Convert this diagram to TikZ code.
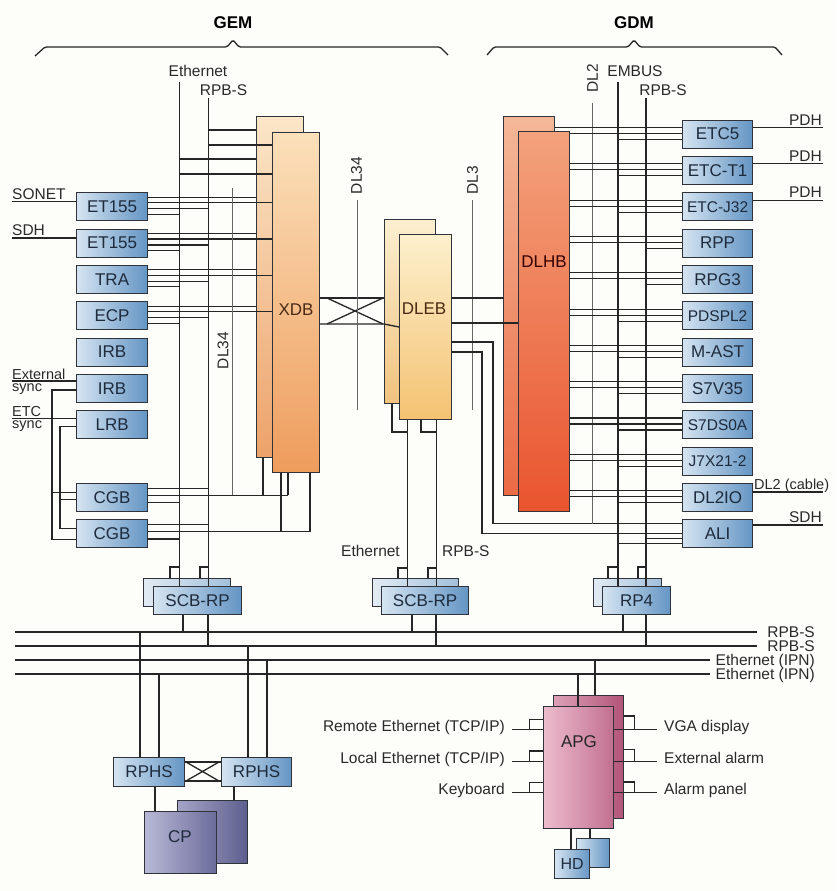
\documentclass[tikz,border=0pt]{standalone}
\usepackage{fontspec}
\setmainfont{Liberation Sans}
\usetikzlibrary{calc}
\pgfdeclarelayer{bgl}
\pgfdeclarelayer{bb}
\pgfdeclarelayer{wires}
\pgfsetlayers{bgl,bb,wires,main}
\definecolor{bgc}{HTML}{FDFDFA}
\definecolor{wire}{HTML}{262626}
\definecolor{bord}{HTML}{30343A}
\definecolor{blL}{HTML}{D5E4F1}
\definecolor{blR}{HTML}{6495C4}
\definecolor{blBL}{HTML}{E2EBF3}
\definecolor{blBR}{HTML}{A3C0DC}
\definecolor{txt}{HTML}{1E2B3C}
\definecolor{lblc}{HTML}{2A2A2A}
\definecolor{cXT}{HTML}{FBE0BA}
\definecolor{cXB}{HTML}{EE9C5C}
\definecolor{cXbT}{HTML}{FAE6C8}
\definecolor{cXbB}{HTML}{EDA26A}
\definecolor{cDT}{HTML}{FCF0CC}
\definecolor{cDB}{HTML}{F4C272}
\definecolor{cDbT}{HTML}{FBEFD0}
\definecolor{cDbB}{HTML}{F1C37E}
\definecolor{cHT}{HTML}{F3A27C}
\definecolor{cHB}{HTML}{E9542E}
\definecolor{cHbT}{HTML}{F4B898}
\definecolor{cHbB}{HTML}{EB6A44}
\definecolor{cpL}{HTML}{B8B8D6}
\definecolor{cpR}{HTML}{6C6C9C}
\definecolor{cpbL}{HTML}{A4A4C8}
\definecolor{cpbR}{HTML}{5E5E8E}
\definecolor{apL}{HTML}{EDBCCD}
\definecolor{apR}{HTML}{C27090}
\definecolor{apbL}{HTML}{DDA0B6}
\definecolor{apbR}{HTML}{B25578}
\definecolor{bigtxt}{HTML}{4A2A14}
\tikzset{
 wr/.style={draw=wire,line width=1.3pt},
 busline/.style={draw=wire,line width=2.5pt},
 dlline/.style={draw=wire!70,line width=0.8pt},
 bx/.style={draw=bord,line width=1.2pt,inner sep=0pt,anchor=north west},
 board/.style={bx,left color=blL,right color=blR,minimum width=71,minimum height=28,text=txt,font=\fontsize{17}{19}\selectfont},
 narrow/.style={font=\fontsize{15.5}{18}\selectfont},
 boardback/.style={bx,left color=blBL,right color=blBR},
 lbl/.style={inner sep=0pt,text=lblc,font=\fontsize{15.5}{18}\selectfont},
 twoline/.style={align=left,font=\fontsize{14.5}{12.4}\selectfont},
 ttl/.style={inner sep=0pt,text=black,font=\fontsize{17}{20}\selectfont\bfseries},
 bigl/.style={inner sep=0pt,text=bigtxt,font=\fontsize{17}{19}\selectfont},
}
\newcommand\lboard[3]{\node[board] (#1) at (76,#2) {#3};}
\newcommand\rboard[4][]{\node[board,minimum width=70,#1] (#2) at (682,#3) {#4};}
\newcommand\lwires[1]{%
 \path ($(#1.north east)+(0,5)$) coordinate (#1-1) ($(#1.north east)+(0,10.5)$) coordinate (#1-2)
       ($(#1.north east)+(0,16.5)$) coordinate (#1-3) ($(#1.north east)+(0,22)$) coordinate (#1-4);
 \draw[wr] (#1-1) -- (xdbB.west |- #1-1) (#1-2) -- (xdbF.west |- #1-2)
           (#1-3) -- (rpbL |- #1-3) (#1-4) -- (ethL |- #1-4);}
\newcommand\rwires[2]{%
 \path ($(#1.north west)+(0,8)$) coordinate (#1-1) ($(#1.north west)+(0,14)$) coordinate (#1-2)
       ($(#1.north west)+(0,20)$) coordinate (#1-3);
 \draw[wr] (#1-1) -- (dlhF.east |- #1-1) (#1-2) -- (dlhF.east |- #1-2) (#1-3) -- (#2 |- #1-3);}
\newcommand\rext[3]{%
 \path ($(#1.north east)+(0,#2)$) coordinate (#1-x);
 \draw[wr] (#1-x) -- (823,0 |- #1-x) coordinate (#1-xe);
 \node[lbl,anchor=base east] (#1-xl) at ($(#1-xe)+(-1,-2.5)$) {#3};}
\begin{document}
\begin{tikzpicture}[x=1pt,y=-1pt]
\useasboundingbox (0,0) rectangle (836,891);
\begin{pgfonlayer}{bgl}
\fill[bgc] (0,0) rectangle (836,891);
\end{pgfonlayer}

% ---------- titles and braces
\node[ttl,anchor=base] (gem) at (233,28.3) {GEM};
\node[ttl,anchor=base] (gdm) at (634,28.3) {GDM};
\draw[wr,rounded corners=1.5pt] (35,56) -- (45,47) -- (227,47) -- (233,40) -- (239,47) -- (440,47) -- (448,55);
\draw[wr,rounded corners=1.5pt] (487,55) -- (494,47) -- (628,47) -- (634,40) -- (640,47) -- (775,47) -- (782,55);

% ---------- back boxes
\begin{pgfonlayer}{bb}
\node[bx,top color=cXbT,bottom color=cXbB,minimum width=47,minimum height=341] (xdbB) at (256,116) {};
\node[bx,top color=cDbT,bottom color=cDbB,minimum width=51,minimum height=184] (dlebB) at (384,219) {};
\node[bx,top color=cHbT,bottom color=cHbB,minimum width=51,minimum height=379] (dlhB) at (503,116) {};
\node[boardback,minimum width=87,minimum height=28] (scbLb) at (143,578) {};
\node[boardback,minimum width=86,minimum height=28] (scbMb) at (372,578) {};
\node[boardback,minimum width=68,minimum height=28] (rp4b) at (593,578) {};
\node[bx,left color=cpbL,right color=cpbR,minimum width=70,minimum height=63] (cpb) at (177,800) {};
\node[bx,left color=apbL,right color=apbR,minimum width=70,minimum height=123] (apgb) at (553,695) {};
\node[boardback,left color=blL,right color=blR,minimum width=33,minimum height=29] (hdb) at (576,838) {};
\end{pgfonlayer}

% ---------- front boxes
\node[bx,top color=cXT,bottom color=cXB,minimum width=47,minimum height=340] (xdbF) at (272,132) {};
\node[bx,top color=cDT,bottom color=cDB,minimum width=52,minimum height=185] (dlebF) at (399,234) {};
\node[bx,top color=cHT,bottom color=cHB,minimum width=51,minimum height=380] (dlhF) at (518,131) {};
\node[bigl] (xdbT) at (296,310) {XDB};
\node[bigl] (dlebT) at (424,309) {DLEB};
\node[bigl,text=black!80!red] (dlhT) at (544,262) {DLHB};

\lboard{et1}{192.2}{ET155}
\lboard{et2}{228.5}{ET155}
\lboard{tra}{264.8}{TRA}
\lboard{ecp}{301.2}{ECP}
\lboard{irba}{337.5}{IRB}
\lboard{irbb}{373.8}{IRB}
\lboard{lrb}{410.1}{LRB}
\lboard{cgba}{482.8}{CGB}
\lboard{cgbb}{519.1}{CGB}

\rboard{etc5}{119.5}{ETC5}
\rboard{etct}{155.8}{ETC-T1}
\rboard[narrow]{etcj}{192.2}{ETC-J32}
\rboard{rpp}{228.5}{RPP}
\rboard{rpg}{264.8}{RPG3}
\rboard[narrow]{pds}{301.2}{PDSPL2}
\rboard{mast}{337.5}{M-AST}
\rboard{svt}{373.8}{S7V35}
\rboard[narrow]{sds}{410.1}{S7DS0A}
\rboard[narrow]{jsx}{446.5}{J7X21-2}
\rboard{dlio}{482.8}{DL2IO}
\rboard{ali}{519.1}{ALI}

\node[board,minimum width=88] (scbL) at (153,586) {SCB-RP};
\node[board,minimum width=87] (scbM) at (381,586) {SCB-RP};
\node[board,minimum width=68] (rp4) at (602,586) {RP4};
\node[board,minimum width=71,minimum height=29] (rphsa) at (113,757) {RPHS};
\node[board,minimum width=70,minimum height=29] (rphsb) at (221,757) {RPHS};
\node[bx,left color=cpL,right color=cpR,minimum width=72,minimum height=62] (cpf) at (144,811) {};
\node[bigl,text=txt] (cpT) at (180,837) {CP};
\node[bx,left color=apL,right color=apR,minimum width=70,minimum height=122] (apgf) at (543,706) {};
\node[bigl,text=black!85] (apgT) at (579,742) {APG};
\node[board,minimum width=35,minimum height=29,font=\fontsize{16}{18}\selectfont] (hdf) at (554,849) {HD};

% ---------- wires
\begin{pgfonlayer}{wires}
\coordinate (ethL) at (179.5,82);
\coordinate (rpbL) at (208.5,98);
\coordinate (dlL) at (232,188);
\coordinate (embus) at (618,82);
\coordinate (rpbR) at (646,98);
\coordinate (dltwo) at (592,103);

% left vertical buses
\draw[wr] (ethL) -- (ethL |- scbL.north);
\draw[wr] (rpbL) -- (rpbL |- scbL.north);
\draw[wr] (ethL |- 0,567) -| (scbLb.north -| 170,0);
\draw[wr] (rpbL |- 0,567) -| (scbLb.north -| 200,0);
\draw[wr] (scbL.south -| 183,0) -- (183,632);
\draw[wr] (scbL.south -| 208,0) -- (208,646);
% top XDB connections
\draw[wr] (rpbL |- 0,130) -- (xdbB.west |- 0,130);
\draw[wr] (rpbL |- 0,145) -- (xdbF.west |- 0,145);
\draw[wr] (ethL |- 0,159) -- (xdbB.west |- 0,159);
\draw[wr] (ethL |- 0,174) -- (xdbF.west |- 0,174);
% left boards
\lwires{et1}\lwires{et2}\lwires{tra}\lwires{ecp}
\draw[wr] (12,201.7) -- (et1.west |- 0,201.7);
\draw[wr] (12,238) -- (et2.west |- 0,238);
\draw[wr] (12,381) -- (irbb.west |- 0,381);
\draw[wr] (12,418.3) -- (lrb.west |- 0,418.3);
\draw[wr] (irbb.west |- 0,390) -- (52,390) -- (52,539.3) -- (cgbb.west |- 0,539.3);
\draw[wr] (52,492.3) -- (cgba.west |- 0,492.3);
\draw[wr] (lrb.west |- 0,426.7) -- (60,426.7) -- (60,528.3) -- (cgbb.west |- 0,528.3);
\draw[wr] (60,499.3) -- (cgba.west |- 0,499.3);
% CGB right side
\draw[wr] (cgba.east |- 0,488.3) -- (rpbL |- 0,488.3);
\draw[wr] (cgba.east |- 0,495.3) -- (288,495.3);
\draw[wr] (cgba.east |- 0,502.8) -- (ethL |- 0,502.8);
\draw[wr] (cgbb.east |- 0,524.6) -- (rpbL |- 0,524.6);
\draw[wr] (cgbb.east |- 0,531.6) -- (310,531.6);
\draw[wr] (cgbb.east |- 0,539.1) -- (ethL |- 0,539.1);
\draw[wr] (xdbB.south -| 263,0) -- (263,495.3);
\draw[wr] (xdbF.south -| 288,0) -- (288,495.3);
\draw[wr] (xdbF.south -| 281,0) -- (281,531.6);
\draw[wr] (xdbF.south -| 310,0) -- (310,531.6);
\draw[dlline] (dlL) -- (232,495.3);
% XDB - DLEB cross
\draw[wr] (xdbF.east |- 0,298) -- (dlebB.west |- 0,298);
\draw[wr] (xdbF.east |- 0,324) -- (dlebB.west |- 0,324) -- (dlebF.west |- 0,327);
\draw[wr] (327,298) -- (383,324) (327,324) -- (383,298);
\draw[dlline] (357,200) -- (357,410);
\draw[dlline] (472,200) -- (472,410);
% DLEB - DLHB / ALI
\draw[wr] (dlebF.east |- 0,298) -- (dlhB.west |- 0,298);
\draw[wr] (dlebF.east |- 0,323) -- (dlhF.west |- 0,323);
\draw[wr] (dlebF.east |- 0,342) -- (493,342) -- (493,523.5) -- (ali.west |- 0,523.5);
\draw[wr] (dlebF.east |- 0,352) -- (482,352) -- (482,533.5) -- (ali.west |- 0,533.5);
\draw[wr] (rpbR |- 0,538.5) -- (ali.west |- 0,538.5);
\draw[wr] (embus |- 0,543.5) -- (ali.west |- 0,543.5);
% DLEB bottom to middle SCB-RP
\draw[wr] (dlebF.south -| 407.5,0) -- (scbM.north -| 407.5,0);
\draw[wr] (dlebF.south -| 436.5,0) -- (scbM.north -| 436.5,0);
\draw[wr] (dlebB.south -| 392,0) -- (392,432) -- (407.5,432);
\draw[wr] (dlebF.south -| 421,0) -- (421,432) -- (436.5,432);
\draw[wr] (407.5,568) -| (scbMb.north -| 398,0);
\draw[wr] (436.5,568) -| (scbMb.north -| 428,0);
\draw[wr] (scbM.south -| 412,0) -- (412,632);
\draw[wr] (scbM.south -| 436,0) -- (436,646);
% right vertical buses
\draw[dlline] (dltwo) -- (dltwo |- 0,523.5);
\draw[wr] (embus) -- (embus |- rp4.north);
\draw[wr] (rpbR) -- (rpbR |- rp4.north);
\draw[wr] (embus |- 0,567) -| (rp4b.north -| 608,0);
\draw[wr] (rpbR |- 0,567) -| (rp4b.north -| 638,0);
\draw[wr] (rp4.south -| 623,0) -- (623,632);
\draw[wr] (rp4.south -| 646,0) -- (646,646);
% right boards
\path ($(etc5.north west)+(0,8)$) coordinate (etc5-1) ($(etc5.north west)+(0,14)$) coordinate (etc5-2)
      ($(etc5.north west)+(0,20)$) coordinate (etc5-3);
\draw[wr] (etc5-1) -- (dlhB.east |- etc5-1) (etc5-2) -- (dlhF.east |- etc5-2) (etc5-3) -- (embus |- etc5-3);
\rwires{etct}{embus}\rwires{etcj}{embus}\rwires{rpp}{rpbR}\rwires{rpg}{rpbR}
\rwires{pds}{embus}\rwires{mast}{embus}\rwires{svt}{embus}\rwires{sds}{embus}
\rwires{jsx}{embus}\rwires{dlio}{embus}
\rext{etc5}{8}{PDH}
\rext{etct}{8}{PDH}
\rext{etcj}{8}{PDH}
\rext{ali}{6}{SDH}
\path ($(dlio.north east)+(0,9.2)$) coordinate (dlio-x);
\draw[wr] (dlio-x) -- (823,0 |- dlio-x);
% horizontal buses
\draw[busline] (15,632) coordinate (bAw) -- (757,632) coordinate (bAe);
\draw[busline] (15,646) coordinate (bBw) -- (757,646) coordinate (bBe);
\draw[busline] (15,660) coordinate (bCw) -- (710,660) coordinate (bCe);
\draw[busline] (15,674) coordinate (bDw) -- (710,674) coordinate (bDe);
% RPHS and CP
\draw[wr] (140,632) -- (rphsa.north -| 140,0);
\draw[wr] (159,674) -- (rphsa.north -| 159,0);
\draw[wr] (248,646) -- (rphsb.north -| 248,0);
\draw[wr] (267,660) -- (rphsb.north -| 267,0);
\draw[wr] (rphsa.east |- 0,762) -- (rphsb.west |- 0,762);
\draw[wr] (rphsa.east |- 0,781) -- (rphsb.west |- 0,781);
\draw[wr] (186,762) -- (219,781) (186,781) -- (219,762);
\draw[wr] (rphsa.south -| 155,0) -- (cpf.north -| 155,0);
\draw[wr] (rphsb.south -| 234,0) -- (cpb.north -| 234,0);
% APG
\draw[wr] (578,674) -- (apgf.north -| 578,0);
\draw[wr] (595,660) -- (apgb.north -| 595,0);
\draw[wr] (apgf.south -| 571,0) -- (hdf.north -| 571,0);
\draw[wr] (apgf.south -| 590,0) -- (hdb.north -| 590,0);
\foreach \m/\t in {729.6/719.3, 761.4/751, 792.8/782.5}{
  \draw[wr] (512,\m) -- (apgf.west |- 0,\m);
  \draw[wr] (529.7,\m) |- (apgf.west |- 0,\t);
}
\foreach \m/\t in {729.6/716, 761.4/749.4, 792.8/781.9}{
  \draw[wr] (apgf.east |- 0,\m) -- (657,\m);
  \draw[wr] (apgb.east |- 0,\t) -| (634.4,\m);
}
\end{pgfonlayer}

% ---------- labels
\node[lbl,anchor=base] (lEth) at (198,77) {Ethernet};
\node[lbl,anchor=base] (lRpb) at (223.5,95) {RPB-S};
\node[lbl,anchor=base] (lEmb) at (635,77) {EMBUS};
\node[lbl,anchor=base] (lRpbR) at (663,95) {RPB-S};
\node[lbl,rotate=90] (lDltwo) at (592.5,78.5) {DL2};
\node[lbl,rotate=90] (lDla) at (223,350.5) {DL34};
\node[lbl,rotate=90] (lDlb) at (356.5,175.5) {DL34};
\node[lbl,rotate=90] (lDlc) at (472.5,180) {DL3};
\node[lbl,anchor=base west] (lSonet) at (12,199.3) {SONET};
\node[lbl,anchor=base west] (lSdh) at (12,235.5) {SDH};
\node[lbl,twoline,anchor=north west] (lExt) at (12,368.8) {External\\sync};
\node[lbl,twoline,anchor=north west] (lEtc) at (12,405.8) {ETC\\sync};
\node[lbl,anchor=base west,font=\fontsize{14.5}{17}\selectfont] (lDlcab) at (754,489.5) {DL2 (cable)};
\node[lbl,anchor=base east] (lMEth) at (400,556.7) {Ethernet};
\node[lbl,anchor=base west] (lMRpb) at (442,556.7) {RPB-S};
\node[lbl,anchor=base east] (lbA) at (815,637.5) {RPB-S};
\node[lbl,anchor=base east] (lbB) at (815,651.5) {RPB-S};
\node[lbl,anchor=base east] (lbC) at (815,665.5) {Ethernet (IPN)};
\node[lbl,anchor=base east] (lbD) at (815,679.5) {Ethernet (IPN)};
\node[lbl,anchor=base east] (lRem) at (505,731.5) {Remote Ethernet (TCP/IP)};
\node[lbl,anchor=base east] (lLoc) at (505,763) {Local Ethernet (TCP/IP)};
\node[lbl,anchor=base east] (lKey) at (505,794.5) {Keyboard};
\node[lbl,anchor=base west] (lVga) at (664,731.5) {VGA display};
\node[lbl,anchor=base west] (lExa) at (664,763) {External alarm};
\node[lbl,anchor=base west] (lAlp) at (664,794.5) {Alarm panel};
\end{tikzpicture}
\end{document}
